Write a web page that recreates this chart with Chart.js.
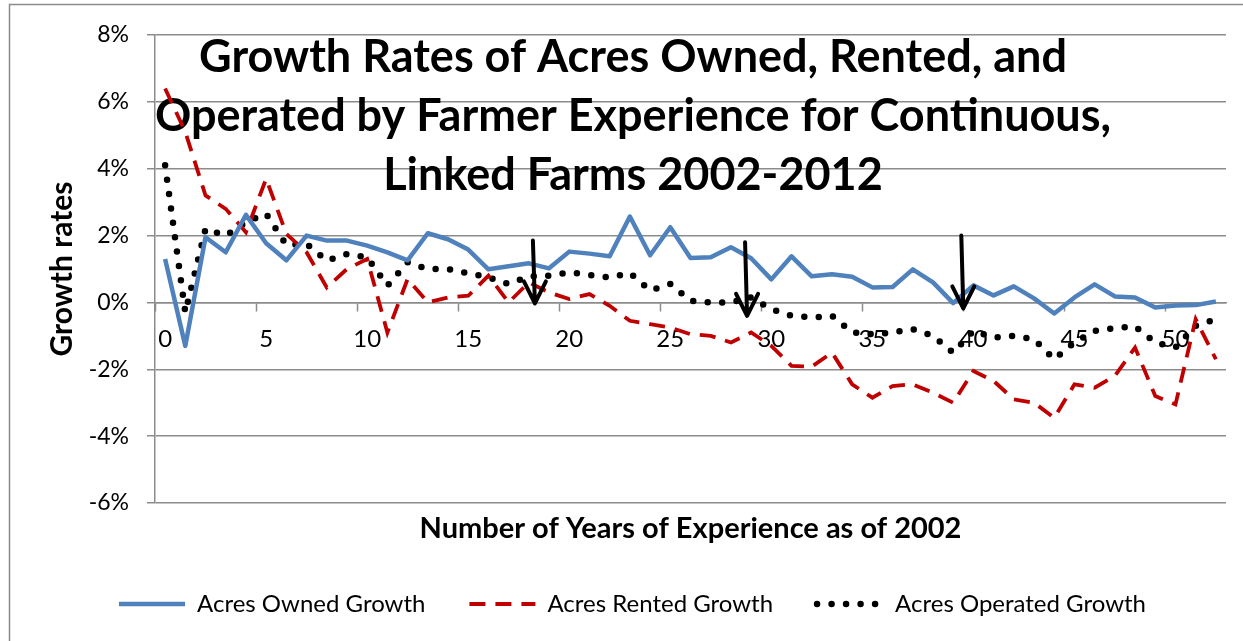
<!DOCTYPE html>
<html>
<head>
<meta charset="utf-8">
<script src="https://cdn.jsdelivr.net/npm/chart.js@4.4.1/dist/chart.umd.min.js"></script>
<style>
  html, body { margin: 0; padding: 0; background: #fff; }
  #wrap { position: relative; width: 1243px; height: 641px; }
</style>
</head>
<body>
<div id="wrap"><canvas id="chartGrowth"></canvas></div>
<script>
const years = ['0', '1', '2', '3', '4', '5', '6', '7', '8', '9', '10', '11', '12', '13', '14', '15', '16', '17', '18', '19', '20',
  '21', '22', '23', '24', '25', '26', '27', '28', '29', '30', '31', '32', '33', '34', '35', '36', '37', '38', '39', '40',
  '41', '42', '43', '44', '45', '46', '47', '48', '49', '50', '51', '52']

const ownedGrowth = [1.3, -1.3, 1.95, 1.5, 2.62, 1.77, 1.26, 2.0, 1.85, 1.85, 1.7, 1.5, 1.26, 2.07, 1.89, 1.58, 0.99, 1.08,
  1.17, 1.02, 1.52, 1.46, 1.38, 2.57, 1.41, 2.25, 1.33, 1.35, 1.65, 1.32, 0.69, 1.38, 0.78, 0.84, 0.77, 0.45, 0.46, 0.99,
  0.6, -0.02, 0.51, 0.21, 0.48, 0.12, -0.33, 0.15, 0.54, 0.18, 0.15, -0.15, -0.09, -0.08, 0.03]

const rentedGrowth = [6.4, 5.1, 3.2, 2.8, 2.1, 3.7, 2.05, 1.5, 0.45, 1.0, 1.3, -0.9, 0.7, 0.0, 0.15, 0.2, 0.8, 0.0,
  0.6, 0.3, 0.1, 0.25, -0.1, -0.55, -0.65, -0.75, -0.95, -1.0, -1.2, -0.9, -1.3, -1.9, -1.92, -1.5, -2.45, -2.85, -2.5, -2.45,
  -2.7, -3.0, -2.05, -2.35, -2.9, -3.0, -3.45, -2.45, -2.55, -2.2, -1.35, -2.8, -3.05, -0.5, -1.7]

const operatedGrowth = [4.1, -0.3, 2.2, 2.0, 2.4, 2.65, 1.72, 1.75, 1.25, 1.45, 1.35, 0.5, 1.2, 1.0, 1.0, 0.87, 0.75, 0.55,
  0.78, 0.8, 0.9, 0.82, 0.75, 0.88, 0.36, 0.55, 0.05, 0.0, 0.0, 0.15, -0.2, -0.4, -0.45, -0.4, -0.9, -0.95, -0.9, -0.8,
  -1.0, -1.5, -0.85, -1.05, -1.0, -1.1, -1.7, -1.2, -0.85, -0.77, -0.72, -1.2, -1.35, -0.7, -0.5]

const titleLines = [
  'Growth Rates of Acres Owned, Rented, and',
  'Operated by Farmer Experience for Continuous,',
  'Linked Farms 2002-2012'
]

// setas desenhadas no grafico (ano, valor inicial, valor da ponta)
const arrowYears = [18.3, 28.8, 39.5]
const arrowStarts = [1.85, 1.8, 2.0]
const arrowTips = [-0.03, -0.4, -0.18]

const FONT = 'Lato, "Open Sans", sans-serif'
const GRID = '#8c8c8c'

const frameAndTitlePlugin = {
  id: 'frameAndTitle',
  beforeDraw: (chart) => {
    const { ctx } = chart
    ctx.save()
    ctx.strokeStyle = GRID
    ctx.lineWidth = 1.5
    ctx.strokeRect(9.5, 4.5, 1400, 800)
    ctx.restore()
  },
  beforeDatasetsDraw: (chart) => {
    const { ctx } = chart
    ctx.save()
    ctx.fillStyle = '#000'
    ctx.font = 'bold 45px ' + FONT
    ctx.textAlign = 'center'
    ctx.textBaseline = 'middle'
    titleLines.forEach((line, i) => {
      ctx.fillText(line, 633, 57 + i * 59)
    })
    ctx.restore()
  },
  afterDatasetsDraw: (chart) => {
    const { ctx, scales } = chart
    ctx.save()
    ctx.strokeStyle = '#000'
    ctx.lineWidth = 4
    ctx.lineCap = 'round'
    ctx.lineJoin = 'round'
    arrowYears.forEach((yr, i) => {
      const x = scales.x.getPixelForValue(yr)
      const y0 = scales.y.getPixelForValue(arrowStarts[i])
      const y1 = scales.y.getPixelForValue(arrowTips[i])
      ctx.beginPath()
      ctx.moveTo(x - 2, y0)
      ctx.lineTo(x, y1)
      ctx.moveTo(x - 11, y1 - 22)
      ctx.lineTo(x, y1)
      ctx.lineTo(x + 11, y1 - 22)
      ctx.stroke()
    })
    ctx.restore()
  }
}

// legenda com o mesmo tracejado das linhas
function legendLabels(chart) {
  const items = Chart.defaults.plugins.legend.labels.generateLabels(chart)
  return items.map((item) => {
    const ds = chart.data.datasets[item.datasetIndex]
    return {
      ...item,
      strokeStyle: ds.borderColor,
      fillStyle: ds.borderColor,
      lineWidth: ds.borderWidth,
      lineDash: ds.borderDash || [],
      lineCap: ds.borderCapStyle || 'butt'
    }
  })
}

new Chart(document.getElementById('chartGrowth'), {
  type: 'line',
  data: {
    labels: years,
    datasets: [
      {
        label: 'Acres Owned Growth',
        data: ownedGrowth,
        borderColor: '#4f81bd',
        backgroundColor: '#4f81bd',
        borderWidth: 4.5,
        pointRadius: 0,
        tension: 0,
        borderJoinStyle: 'round'
      },
      {
        label: 'Acres Rented Growth',
        data: rentedGrowth,
        borderColor: '#c00000',
        backgroundColor: '#c00000',
        borderWidth: 3.8,
        borderDash: [16, 10],
        pointRadius: 0,
        tension: 0
      },
      {
        label: 'Acres Operated Growth',
        data: operatedGrowth,
        borderColor: '#000',
        backgroundColor: '#000',
        borderWidth: 6.5,
        borderDash: [0, 14.5],
        borderCapStyle: 'round',
        pointRadius: 0,
        tension: 0
      }
    ]
  },
  options: {
    responsive: true,
    maintainAspectRatio: false,
    animation: false,
    layout: {
      padding: { top: 35, right: 17, left: 39, bottom: 15 }
    },
    plugins: {
      tooltip: { enabled: false },
      legend: {
        position: 'bottom',
        labels: {
          usePointStyle: true,
          pointStyle: 'line',
          pointStyleWidth: 66,
          boxWidth: 66,
          boxHeight: 20,
          padding: 44,
          color: '#000',
          font: { family: FONT, size: 24 },
          generateLabels: legendLabels
        }
      }
    },
    scales: {
      x: {
        type: 'category',
        position: { y: 0 },
        offset: true,
        grid: {
          offset: true,
          drawOnChartArea: false,
          drawTicks: true,
          tickLength: 8,
          tickWidth: 1.5,
          tickColor: (c) => (c.index % 5 === 0 ? GRID : 'rgba(0,0,0,0)')
        },
        border: { display: true, color: GRID, width: 1.5 },
        ticks: {
          autoSkip: false,
          maxRotation: 0,
          padding: 14,
          color: '#000',
          font: { family: FONT, size: 24 },
          callback: (val, i) => (i % 5 === 0 ? years[i] : '')
        }
      },
      xTitle: {
        type: 'category',
        position: 'bottom',
        grid: { display: false, drawTicks: false },
        border: { display: false },
        ticks: { display: false },
        title: {
          display: true,
          text: 'Number of Years of Experience as of 2002',
          color: '#000',
          padding: { top: 0, bottom: 2 },
          font: { family: FONT, size: 29, weight: 'bold' }
        },
        afterFit: (scale) => { scale.height = 45 }
      },
      y: {
        min: -6,
        max: 8,
        afterFit: (scale) => { scale.width = 116 },
        ticks: {
          stepSize: 2,
          padding: 18,
          color: '#000',
          font: { family: FONT, size: 23 },
          callback: (v) => v + '%'
        },
        grid: {
          color: GRID,
          lineWidth: 1.5,
          tickLength: 8
        },
        border: { display: true, color: GRID, width: 1.5 },
        title: {
          display: true,
          text: 'Growth rates',
          color: '#000',
          padding: { top: 5, bottom: 0 },
          font: { family: FONT, size: 30, weight: 'bold' }
        }
      }
    }
  },
  plugins: [frameAndTitlePlugin]
})
</script>
</body>
</html>
